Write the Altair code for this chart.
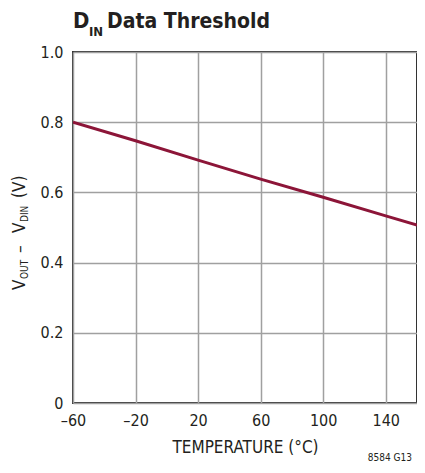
import altair as alt
import pandas as pd

# Data
temps = [-60, -20, 20, 60, 100, 140, 160]
vthresh = [0.800, 0.747, 0.692, 0.638, 0.586, 0.533, 0.507]

x_ticks = [-60, -20, 20, 60, 100, 140]
y_ticks = [0, 0.2, 0.4, 0.6, 0.8, 1.0]

FONT = "DejaVu Sans Condensed"
TXT = "#231f20"

df = pd.DataFrame({"t": temps, "v": vthresh})

W, H = 344, 351

base = alt.Chart(df)

line = base.mark_line(color="#8c1538", strokeWidth=3, clip=True).encode(
    x=alt.X("t:Q",
            scale=alt.Scale(domain=[-60, 160], nice=False, zero=False),
            axis=alt.Axis(values=x_ticks, title="TEMPERATURE (°C)",
                          labelExpr="replace(datum.label, '−', '–')",
                          labelFlush=False, labelOverlap=False, labelBound=False,
                          grid=True, gridColor="#a0a0a0", gridWidth=1.5,
                          ticks=False, domain=False,
                          labelFont=FONT, labelFontSize=16, labelColor=TXT,
                          labelPadding=9,
                          titleFont=FONT, titleFontSize=17, titleFontWeight="normal",
                          titleColor=TXT, titlePadding=11)),
    y=alt.Y("v:Q",
            scale=alt.Scale(domain=[0, 1], nice=False),
            axis=alt.Axis(values=y_ticks, title=None,
                          labelExpr="datum.value == 0 ? '0' : format(datum.value, '.1f')",
                          labelFlush=False, labelOverlap=False, labelBound=False,
                          grid=True, gridColor="#a0a0a0", gridWidth=1.5,
                          ticks=False, domain=False,
                          labelFont=FONT, labelFontSize=16, labelColor=TXT,
                          labelPadding=10)),
)

def txt(s, x, y, size, weight="normal", angle=0, align="left", baseline="alphabetic"):
    return alt.Chart(pd.DataFrame({"s": [s]})).mark_text(
        font=FONT, fontSize=size, fontWeight=weight, color=TXT,
        align=align, baseline=baseline, angle=angle
    ).encode(text="s:N", x=alt.value(x), y=alt.value(y))

# Title with subscript
title_parts = [
    txt("D", 0, -24, 22, "bold"),
    txt("IN", 16, -16, 13, "bold"),
    txt("Data Threshold", 34, -24, 21, "bold"),
]

# Y-axis title with subscripts (rotated)
yt = [
    txt("V", -48, 238, 17, angle=270),
    txt("OUT", -45, 227, 10, angle=270),
    txt("–", -48, 201, 17, angle=270),
    txt("V", -48, 181, 17, angle=270),
    txt("DIN", -45, 170, 10, angle=270),
    txt("(V)", -48, 146, 17, angle=270),
]

note = txt("8584 G13", 339, 409, 10, align="right")

chart = alt.layer(line, *title_parts, *yt, note).properties(
    width=W, height=H,
    autosize=alt.AutoSizeParams(type="none"),
    padding={"left": 65, "top": 44, "right": 0, "bottom": 62},
).configure_view(stroke="#333333", strokeWidth=2)

chart.save("out.html", embed_options={"renderer": "svg", "actions": False})
